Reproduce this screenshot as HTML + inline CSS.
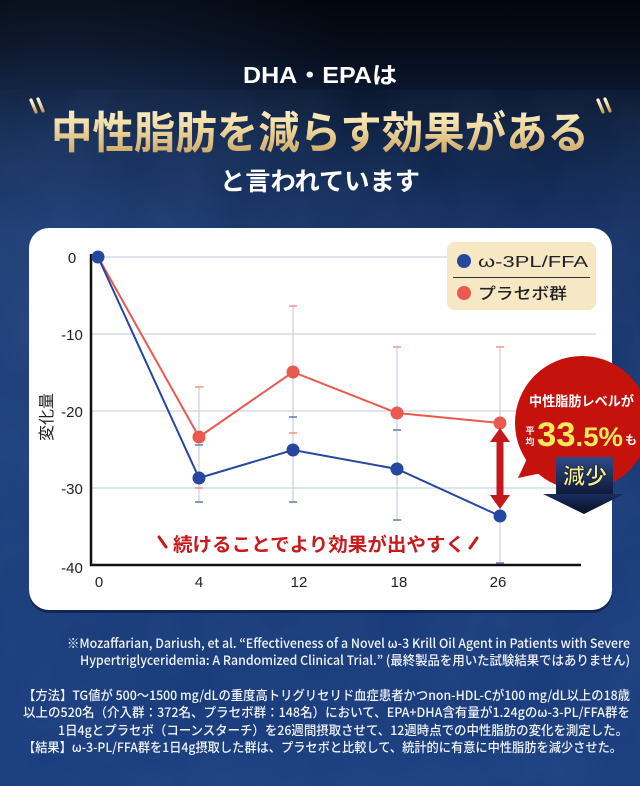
<!DOCTYPE html>
<html><head><meta charset="utf-8">
<style>
html,body{margin:0;padding:0;width:640px;height:786px;overflow:hidden;background:#0b1730;}
svg{display:block}
text{font-family:"Liberation Sans","Noto Sans CJK JP",sans-serif;}
.jp{font-family:"Noto Sans CJK JP","Liberation Sans",sans-serif;}
</style></head>
<body>
<svg width="640" height="786" viewBox="0 0 640 786" xmlns="http://www.w3.org/2000/svg">
<defs>
  <linearGradient id="bg" x1="0" y1="0" x2="0" y2="1">
    <stop offset="0" stop-color="#03060c"/>
    <stop offset="0.06" stop-color="#060c19"/>
    <stop offset="0.17" stop-color="#0e2143"/>
    <stop offset="0.3" stop-color="#163265"/>
    <stop offset="0.6" stop-color="#193a76"/>
    <stop offset="1" stop-color="#1a3d7e"/>
  </linearGradient>
  <radialGradient id="glowL" cx="0.1" cy="0.3" r="0.5">
    <stop offset="0" stop-color="#3a63a8" stop-opacity="0.3"/>
    <stop offset="1" stop-color="#3a63a8" stop-opacity="0"/>
  </radialGradient>
  <linearGradient id="gold" x1="0" y1="0" x2="0" y2="1">
    <stop offset="0" stop-color="#fff7dc"/>
    <stop offset="0.45" stop-color="#f2dca4"/>
    <stop offset="1" stop-color="#c49c58"/>
  </linearGradient>
  <linearGradient id="navy" x1="0" y1="0" x2="0" y2="1">
    <stop offset="0" stop-color="#2f4a8a"/>
    <stop offset="1" stop-color="#0c1836"/>
  </linearGradient>
  <linearGradient id="navy2" x1="0" y1="0" x2="0" y2="1">
    <stop offset="0" stop-color="#1a2d5e"/>
    <stop offset="1" stop-color="#070f24"/>
  </linearGradient>
  <filter id="tex" x="0" y="0" width="100%" height="100%">
    <feTurbulence type="fractalNoise" baseFrequency="0.012" numOctaves="3" seed="4"/>
    <feColorMatrix type="matrix" values="0 0 0 0 0.3  0 0 0 0 0.48  0 0 0 0 0.85  0 0 0 0.3 -0.05"/>
  </filter>
</defs>

<!-- background -->
<rect x="0" y="0" width="640" height="786" fill="url(#bg)"/>
<rect x="0" y="0" width="640" height="786" fill="url(#glowL)"/>
<rect x="0" y="90" width="640" height="696" filter="url(#tex)" opacity="0.3"/>

<!-- header -->
<text x="243" y="83" font-size="23" font-weight="700" fill="#ffffff" textLength="154" lengthAdjust="spacingAndGlyphs">DHA・EPAは</text>
<g stroke="url(#gold)" stroke-width="3.2" stroke-linecap="round" fill="none">
  <line x1="31" y1="100" x2="36" y2="112"/>
  <line x1="38" y1="99" x2="43" y2="111"/>
  <line x1="598" y1="100" x2="603" y2="112"/>
  <line x1="605" y1="99" x2="610" y2="111"/>
</g>
<text class="jp" x="51" y="148" font-size="44" font-weight="700" fill="url(#gold)" textLength="538" lengthAdjust="spacingAndGlyphs">中性脂肪を減らす効果がある</text>
<text class="jp" x="220" y="190" font-size="25" font-weight="700" fill="#ffffff" textLength="200" lengthAdjust="spacingAndGlyphs">と言われています</text>

<!-- card -->
<rect x="29" y="231" width="583" height="382" rx="20" fill="#0a1736" opacity="0.6"/>
<rect x="29" y="228" width="583" height="382" rx="20" fill="#ffffff"/>

<!-- gridlines -->
<g stroke="#d3dbee" stroke-width="1.5">
  <line x1="91" y1="257" x2="596" y2="257"/>
  <line x1="91" y1="334" x2="596" y2="334"/>
  <line x1="91" y1="411" x2="596" y2="411"/>
  <line x1="91" y1="488" x2="596" y2="488"/>
</g>

<!-- error bars -->
<g stroke="#c9cfdd" stroke-width="1.2">
  <line x1="199" y1="387" x2="199" y2="502"/>
  <line x1="293" y1="306" x2="293" y2="502"/>
  <line x1="397" y1="347" x2="397" y2="520"/>
  <line x1="500" y1="347" x2="500" y2="563"/>
</g>
<g stroke="#f29a93" stroke-width="1.6">
  <line x1="195" y1="387" x2="203" y2="387"/>
  <line x1="195" y1="488" x2="203" y2="488"/>
  <line x1="289" y1="306" x2="297" y2="306"/>
  <line x1="289" y1="433" x2="297" y2="433"/>
  <line x1="393" y1="347" x2="401" y2="347"/>
  <line x1="496" y1="347" x2="504" y2="347"/>
</g>
<g stroke="#6b80b5" stroke-width="1.6">
  <line x1="195" y1="445" x2="203" y2="445"/>
  <line x1="195" y1="502" x2="203" y2="502"/>
  <line x1="289" y1="417" x2="297" y2="417"/>
  <line x1="289" y1="502" x2="297" y2="502"/>
  <line x1="393" y1="430" x2="401" y2="430"/>
  <line x1="393" y1="520" x2="401" y2="520"/>
  <line x1="496" y1="563" x2="504" y2="563"/>
</g>

<!-- axes -->
<line x1="91" y1="254" x2="91" y2="566" stroke="#111" stroke-width="2.5"/>
<line x1="90" y1="565" x2="581" y2="565" stroke="#111" stroke-width="2.5"/>

<!-- y labels -->
<g font-size="15" fill="#222" text-anchor="middle">
  <text x="72" y="263">0</text>
  <text x="72" y="340">-10</text>
  <text x="72" y="417">-20</text>
  <text x="72" y="494">-30</text>
  <text x="72" y="573">-40</text>
</g>
<!-- x labels -->
<g font-size="15" fill="#222" text-anchor="middle">
  <text x="99" y="587">0</text>
  <text x="199" y="587">4</text>
  <text x="299" y="587">12</text>
  <text x="399" y="587">18</text>
  <text x="498" y="587">26</text>
</g>
<text class="jp" x="0" y="0" font-size="16" fill="#222" text-anchor="middle" transform="translate(52,417) rotate(-90)">変化量</text>

<!-- series -->
<polyline points="98,257 199,437 293,372 397,413 500,423" fill="none" stroke="#e85a50" stroke-width="2"/>
<polyline points="98,257 199,478 293,450 397,469 500,516" fill="none" stroke="#26479f" stroke-width="2"/>
<g fill="#e85a50">
  <circle cx="199" cy="437" r="6.5"/>
  <circle cx="293" cy="372" r="6.5"/>
  <circle cx="397" cy="413" r="6.5"/>
  <circle cx="500" cy="423" r="6.5"/>
</g>
<g fill="#26479f">
  <circle cx="98" cy="257" r="6.5"/>
  <circle cx="199" cy="478" r="6.5"/>
  <circle cx="293" cy="450" r="6.5"/>
  <circle cx="397" cy="469" r="6.5"/>
  <circle cx="500" cy="516" r="6.5"/>
</g>

<!-- red double arrow -->
<g fill="#c4181a">
  <rect x="496.5" y="440" width="7" height="56"/>
  <polygon points="500,428 510,442 490,442"/>
  <polygon points="500,509 510,495 490,495"/>
</g>

<!-- annotation -->
<g stroke="#c81a1a" stroke-width="3" stroke-linecap="round">
  <line x1="159" y1="537" x2="166" y2="547"/>
  <line x1="470" y1="548" x2="477" y2="538"/>
</g>
<text class="jp" x="173" y="551" font-size="19" font-weight="700" fill="#c81a1a" textLength="292" lengthAdjust="spacingAndGlyphs">続けることでより効果が出やすく</text>

<!-- legend -->
<rect x="447" y="242" width="149" height="68" rx="8" fill="#f6e8c4"/>
<line x1="453" y1="277.5" x2="590" y2="277.5" stroke="#333" stroke-width="1"/>
<circle cx="464" cy="261" r="7" fill="#26479f"/>
<circle cx="464" cy="293" r="7" fill="#e85a50"/>
<text x="478" y="267" font-size="16" fill="#222" textLength="110" lengthAdjust="spacingAndGlyphs">ω-3PL/FFA</text>
<text class="jp" x="478" y="299" font-size="16" font-weight="500" fill="#222" textLength="89" lengthAdjust="spacingAndGlyphs">プラセボ群</text>

<!-- badge -->
<polygon points="532,448 518,478 556,470" fill="#c5120d"/>
<circle cx="582" cy="423" r="67" fill="#c5120d"/>
<text class="jp" x="529" y="406" font-size="13.5" font-weight="700" fill="#ffffff" textLength="105" lengthAdjust="spacingAndGlyphs">中性脂肪レベルが</text>
<text class="jp" x="530" y="434" font-size="9" font-weight="700" fill="#ffffff" text-anchor="middle">平</text>
<text class="jp" x="530" y="445" font-size="9" font-weight="700" fill="#ffffff" text-anchor="middle">均</text>
<text x="537" y="446" font-weight="700" fill="#fae95a" textLength="86" lengthAdjust="spacingAndGlyphs"><tspan font-size="34">33</tspan><tspan font-size="27">.5%</tspan></text>
<text class="jp" x="625" y="444" font-size="12" font-weight="700" fill="#ffffff">も</text>

<!-- 減少 arrow -->
<rect x="556" y="457" width="57" height="38" fill="url(#navy)"/>
<polygon points="543,494 624,494 584,514" fill="url(#navy2)"/>
<text class="jp" x="585" y="484" font-size="22" font-weight="700" fill="#f5ec8c" stroke="#0b1530" stroke-width="0.6" text-anchor="middle">減少</text>

<!-- footnotes -->
<g class="jp" font-size="13" font-weight="500" fill="#f0f3fa">
  <text class="jp" x="67" y="648" textLength="563" lengthAdjust="spacingAndGlyphs">※Mozaffarian, Dariush, et al. “Effectiveness of a Novel ω-3 Krill Oil Agent in Patients with Severe</text>
  <text class="jp" x="80" y="665" textLength="550" lengthAdjust="spacingAndGlyphs">Hypertriglyceridemia: A Randomized Clinical Trial.” (最終製品を用いた試験結果ではありません)</text>
  <text class="jp" x="23" y="700" textLength="607" lengthAdjust="spacingAndGlyphs">【方法】TG値が 500〜1500 mg/dLの重度高トリグリセリド血症患者かつnon-HDL-Cが100 mg/dL以上の18歳</text>
  <text class="jp" x="23" y="717" textLength="607" lengthAdjust="spacingAndGlyphs">以上の520名（介入群：372名、プラセボ群：148名）において、EPA+DHA含有量が1.24gのω-3-PL/FFA群を</text>
  <text class="jp" x="58" y="735" textLength="570" lengthAdjust="spacingAndGlyphs">1日4gとプラセボ（コーンスターチ）を26週間摂取させて、12週時点での中性脂肪の変化を測定した。</text>
  <text class="jp" x="23" y="752" textLength="599" lengthAdjust="spacingAndGlyphs">【結果】ω-3-PL/FFA群を1日4g摂取した群は、プラセボと比較して、統計的に有意に中性脂肪を減少させた。</text>
</g>
</svg>
</body></html>
